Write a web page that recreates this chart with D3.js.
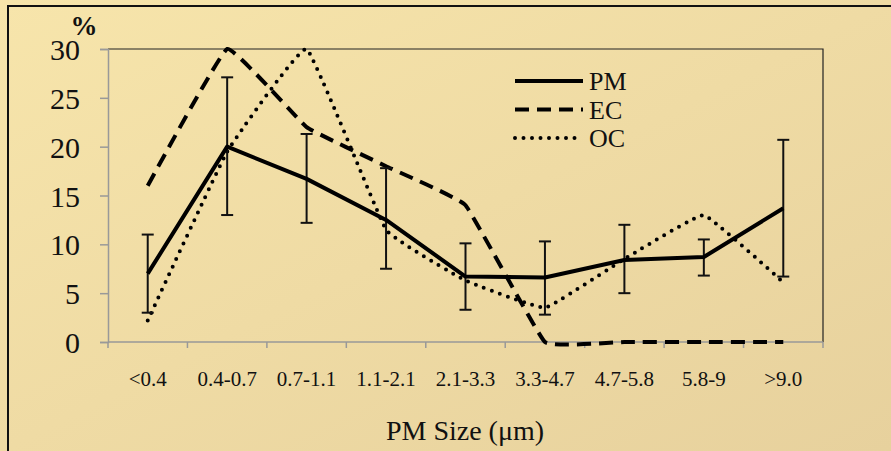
<!DOCTYPE html>
<html>
<head>
<style>
    body { margin: 0; }
    svg { display: block; font-family: "Liberation Serif", "DejaVu Serif", serif; }
</style>
</head>
<body>
<svg id="chart" width="891" height="451"></svg>
<script src="https://d3js.org/d3.v7.min.js"></script>
<script>
    // data
    let categories = ["<0.4", "0.4-0.7", "0.7-1.1", "1.1-2.1", "2.1-3.3", "3.3-4.7", "4.7-5.8", "5.8-9", ">9.0"];
    let pmValues = [7, 20, 16.7, 12.5, 6.7, 6.6, 8.4, 8.7, 13.7];
    let pmHigh = [11, 27.1, 21.3, 17.8, 10.1, 10.3, 12, 10.5, 20.7];
    let pmLow = [3, 13, 12.2, 7.5, 3.3, 2.8, 5, 6.8, 6.7];
    let ecValues = [16, 30, 22, 18, 14, 0, 0, 0, 0];
    let ocValues = [2.2, 19.5, 30, 11.5, 6.3, 3.5, 8.5, 13, 6.1];
    let yTicks = [0, 5, 10, 15, 20, 25, 30];

    let svg = d3.select("#chart");

    // background
    let grad = svg.append("defs").append("linearGradient")
        .attr("id", "bg").attr("x1", "0").attr("y1", "0").attr("x2", "1").attr("y2", "1");
    grad.append("stop").attr("offset", "0").attr("stop-color", "#f7e5ab");
    grad.append("stop").attr("offset", "1").attr("stop-color", "#e7d19d");
    svg.append("rect").attr("width", 891).attr("height", 451).attr("fill", "url(#bg)");

    // outer frame (cut off at right / bottom)
    svg.append("path").attr("d", "M8,451 V6 H891")
        .attr("fill", "none").attr("stroke", "#111").attr("stroke-width", 2);

    let plotL = 108, plotT = 49, plotR = 823, plotB = 342;

    let x = d3.scaleBand().domain(categories).range([plotL, plotR]);
    let y = d3.scaleLinear().domain([0, 30]).range([plotB, plotT]);
    let cx = (i) => x(categories[i]) + x.bandwidth() / 2;

    // top and right border of plot
    svg.append("path").attr("d", `M${plotL},${plotT} H${plotR} V${plotB}`)
        .attr("fill", "none").attr("stroke", "#222").attr("stroke-width", 1.2);

    // y axis
    let yAxis = d3.axisLeft(y).tickValues(yTicks).tickSize(8).tickPadding(20);
    let gy = svg.append("g").attr("transform", `translate(${plotL},0)`).call(yAxis)
        .attr("font-family", null).attr("font-size", null);
    gy.select(".domain").attr("stroke", "#999").attr("stroke-width", 1.5);
    gy.selectAll(".tick line").attr("stroke", "#999").attr("stroke-width", 1.5);
    gy.selectAll(".tick text")
        .style("font-family", "'Liberation Serif', serif").style("font-size", "30px").attr("fill", "#111")
        .attr("dy", "0.35em");

    // x axis: ticks at band edges
    let edges = categories.map((c) => x(c)).concat([plotR]);
    let gx = svg.append("g");
    gx.append("line").attr("x1", plotL).attr("x2", plotR).attr("y1", plotB).attr("y2", plotB)
        .attr("stroke", "#999").attr("stroke-width", 1.5);
    gx.selectAll("line.tk").data(edges).enter().append("line").attr("class", "tk")
        .attr("x1", (d) => d).attr("x2", (d) => d)
        .attr("y1", plotB).attr("y2", plotB + 6)
        .attr("stroke", "#999").attr("stroke-width", 1.5);
    gx.selectAll("text").data(categories).enter().append("text")
        .attr("x", (d, i) => cx(i)).attr("y", 386)
        .attr("text-anchor", "middle").attr("font-size", 21).attr("fill", "#111")
        .text((d) => d);

    // series
    let lineStraight = d3.line().x((d, i) => cx(i)).y((d) => y(d));
    let lineSmooth = d3.line().x((d, i) => cx(i)).y((d) => y(d)).curve(d3.curveCardinal.tension(0.75));

    svg.append("path").datum(ecValues).attr("d", lineSmooth)
        .attr("fill", "none").attr("stroke", "#000").attr("stroke-width", 4)
        .attr("stroke-dasharray", "14 8");
    svg.append("path").datum(ocValues).attr("d", lineSmooth)
        .attr("fill", "none").attr("stroke", "#000").attr("stroke-width", 4)
        .attr("stroke-linecap", "round").attr("stroke-dasharray", "0 8.5");

    // error bars
    let eb = svg.append("g").attr("stroke", "#111").attr("stroke-width", 2);
    pmValues.forEach((v, i) => {
        eb.append("line").attr("x1", cx(i)).attr("x2", cx(i)).attr("y1", y(pmHigh[i])).attr("y2", y(pmLow[i]));
        eb.append("line").attr("x1", cx(i) - 6).attr("x2", cx(i) + 6).attr("y1", y(pmHigh[i])).attr("y2", y(pmHigh[i]));
        eb.append("line").attr("x1", cx(i) - 6).attr("x2", cx(i) + 6).attr("y1", y(pmLow[i])).attr("y2", y(pmLow[i]));
    });

    svg.append("path").datum(pmValues).attr("d", lineStraight)
        .attr("fill", "none").attr("stroke", "#000").attr("stroke-width", 4)
        .attr("stroke-linejoin", "round");

    // legend
    let legend = [
        { name: "PM", dash: null, cap: "butt" },
        { name: "EC", dash: "14 8", cap: "butt" },
        { name: "OC", dash: "0 8.5", cap: "round" }
    ];
    legend.forEach((d, i) => {
        let ly = 81 + i * 28.5;
        svg.append("line").attr("x1", 515).attr("x2", 583).attr("y1", ly).attr("y2", ly)
            .attr("stroke", "#000").attr("stroke-width", 4)
            .attr("stroke-linecap", d.cap)
            .attr("stroke-dasharray", d.dash);
        svg.append("text").attr("x", 589).attr("y", ly).attr("dy", "0.35em")
            .attr("font-size", 26).attr("fill", "#111").text(d.name);
    });

    // axis labels
    svg.append("text").attr("x", 84).attr("y", 35).attr("text-anchor", "middle")
        .attr("font-size", 27).attr("font-weight", "bold").attr("fill", "#111").text("%");
    svg.append("text").attr("x", 465).attr("y", 440).attr("text-anchor", "middle")
        .attr("font-size", 28).attr("fill", "#111").text("PM Size (μm)");
</script>
</body>
</html>
